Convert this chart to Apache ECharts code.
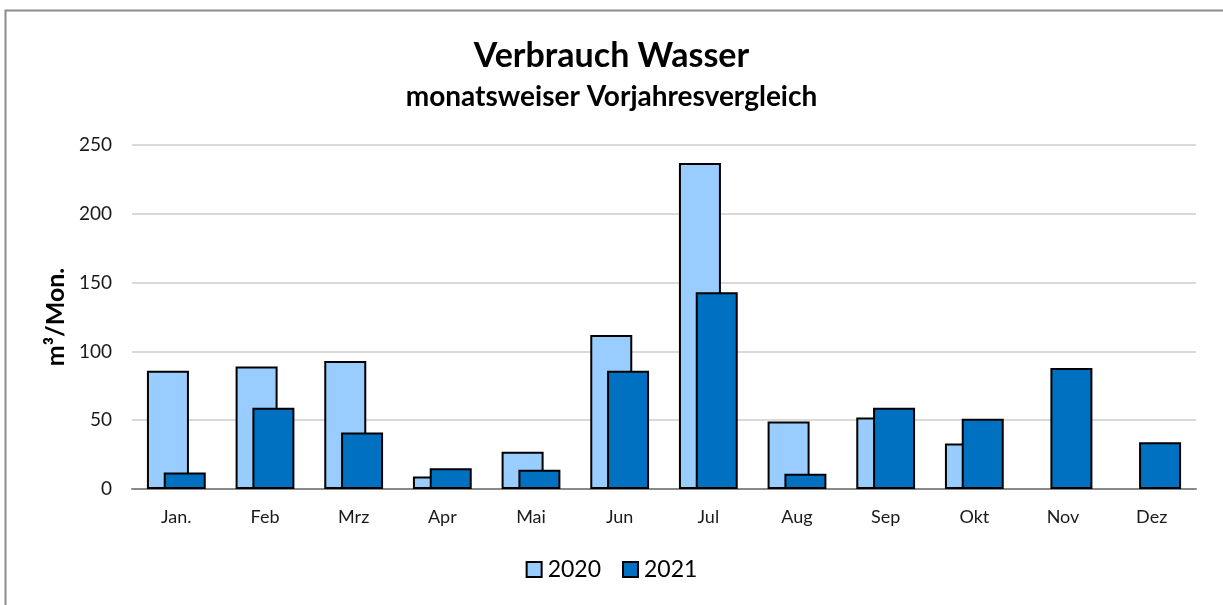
<!DOCTYPE html>
<html>
<head>
<meta charset="utf-8">
<script src="https://cdn.jsdelivr.net/npm/echarts@6/dist/echarts.min.js"></script>
<style>
html,body{margin:0;padding:0;background:#fff;}
#chart{width:1223px;height:605px;}
</style>
</head>
<body>
<div id="chart"></div>
<script>
const categories = ['Jan.', 'Feb', 'Mrz', 'Apr', 'Mai', 'Jun', 'Jul', 'Aug', 'Sep', 'Okt', 'Nov', 'Dez'];
const values2020 = [86, 89, 93, 9, 27, 112, 237, 49, 52, 33, null, null];
const values2021 = [12, 59, 41, 15, 14, 86, 143, 11, 59, 51, 88, 34];
const yTicks = { min: 0, max: 250, interval: 50 };

const FONT = 'Lato, "Open Sans", sans-serif';
const chart = echarts.init(document.getElementById('chart'), null, { renderer: 'canvas' });
chart.setOption({
  backgroundColor: '#ffffff',
  animation: false,
  textStyle: { fontFamily: FONT },
  graphic: [{
    type: 'rect',
    shape: { x: 5.5, y: 10.5, width: 1400, height: 800 },
    style: { fill: 'none', stroke: '#8c8c8c', lineWidth: 2 },
    silent: true, z: -10
  }],
  title: [{
    text: 'Verbrauch Wasser',
    left: 'center',
    top: 34,
    textStyle: { fontFamily: FONT, fontSize: 34, fontWeight: 'bold', color: '#000' }
  }, {
    text: 'monatsweiser Vorjahresvergleich',
    left: 'center',
    top: 78,
    textStyle: { fontFamily: FONT, fontSize: 28, fontWeight: 'bold', color: '#000' }
  }],
  legend: {
    data: ['2020', '2021'],
    top: 553,
    left: 'center',
    icon: 'rect',
    itemWidth: 15,
    itemHeight: 15,
    itemGap: 21,
    textStyle: { fontFamily: FONT, fontSize: 23, color: '#000', padding: [0, 0, 0, 1] }
  },
  grid: { left: 132, right: 27, top: 145, bottom: 116, containLabel: false },
  xAxis: {
    type: 'category',
    data: categories,
    axisLine: { lineStyle: { color: '#898989', width: 2 } },
    axisTick: { show: false },
    axisLabel: { fontFamily: FONT, fontSize: 18, color: '#1a1a1a', margin: 19 }
  },
  yAxis: {
    type: 'value',
    min: yTicks.min, max: yTicks.max, interval: yTicks.interval,
    name: 'm³/Mon.',
    nameLocation: 'middle',
    nameGap: 62,
    nameTextStyle: { fontFamily: FONT, fontSize: 25, fontWeight: 'bold', color: '#000' },
    axisLine: { show: false },
    axisTick: { show: false },
    axisLabel: { fontFamily: FONT, fontSize: 19, color: '#1a1a1a', margin: 20 },
    splitLine: { lineStyle: { color: '#d9d9d9', width: 2 } }
  },
  series: [
    {
      name: '2020', type: 'bar', data: values2020,
      barWidth: 42, barGap: '-60%',
      itemStyle: { color: '#99ccff', borderColor: '#000', borderWidth: 2 }
    },
    {
      name: '2021', type: 'bar', data: values2021,
      barWidth: 42, barGap: '-60%',
      itemStyle: { color: '#0070c0', borderColor: '#000', borderWidth: 2 }
    }
  ]
});
</script>
</body>
</html>
